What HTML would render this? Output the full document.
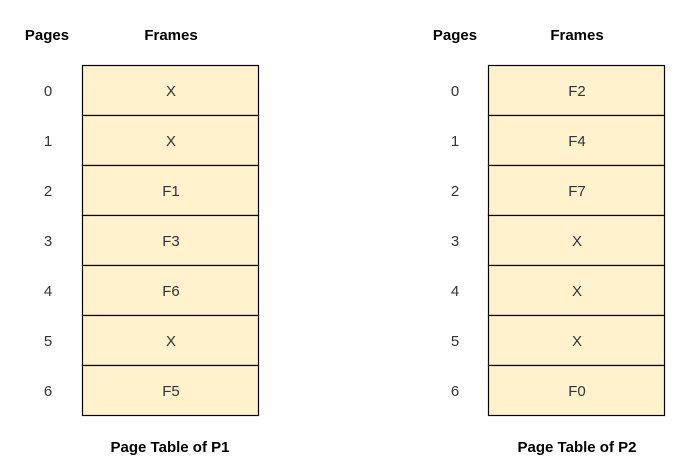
<!DOCTYPE html>
<html><head><meta charset="utf-8"><style>
html,body{margin:0;padding:0;background:#fff;}
svg{display:block;}
text{font-family:"Liberation Sans",Arial,sans-serif;}
.h{font-size:15px;font-weight:bold;fill:#000;}
.n{font-size:15px;fill:#333;}
</style></head><body>
<svg width="693" height="475" viewBox="0 0 693 475" xmlns="http://www.w3.org/2000/svg">
<rect width="693" height="475" fill="#fff"/>
<g text-anchor="middle">
<text class="h" x="47" y="40">Pages</text>
<text class="h" x="171" y="40">Frames</text>
<text class="h" x="455" y="40">Pages</text>
<text class="h" x="577" y="40">Frames</text>
<text class="h" x="170" y="452">Page Table of P1</text>
<text class="h" x="577" y="452">Page Table of P2</text>
</g>
<g fill="#fff2cc" stroke="#000" stroke-width="1.2">
<rect x="82.5" y="65.5" width="176" height="50"/>
<rect x="82.5" y="115.5" width="176" height="50"/>
<rect x="82.5" y="165.5" width="176" height="50"/>
<rect x="82.5" y="215.5" width="176" height="50"/>
<rect x="82.5" y="265.5" width="176" height="50"/>
<rect x="82.5" y="315.5" width="176" height="50"/>
<rect x="82.5" y="365.5" width="176" height="50"/>
<rect x="488.5" y="65.5" width="176" height="50"/>
<rect x="488.5" y="115.5" width="176" height="50"/>
<rect x="488.5" y="165.5" width="176" height="50"/>
<rect x="488.5" y="215.5" width="176" height="50"/>
<rect x="488.5" y="265.5" width="176" height="50"/>
<rect x="488.5" y="315.5" width="176" height="50"/>
<rect x="488.5" y="365.5" width="176" height="50"/>
</g>
<g class="n" text-anchor="middle">
<text class="n" x="48" y="96">0</text><text class="n" x="171" y="96">X</text>
<text class="n" x="48" y="146">1</text><text class="n" x="171" y="146">X</text>
<text class="n" x="48" y="196">2</text><text class="n" x="171" y="196">F1</text>
<text class="n" x="48" y="246">3</text><text class="n" x="171" y="246">F3</text>
<text class="n" x="48" y="296">4</text><text class="n" x="171" y="296">F6</text>
<text class="n" x="48" y="346">5</text><text class="n" x="171" y="346">X</text>
<text class="n" x="48" y="396">6</text><text class="n" x="171" y="396">F5</text>
<text class="n" x="455" y="96">0</text><text class="n" x="577" y="96">F2</text>
<text class="n" x="455" y="146">1</text><text class="n" x="577" y="146">F4</text>
<text class="n" x="455" y="196">2</text><text class="n" x="577" y="196">F7</text>
<text class="n" x="455" y="246">3</text><text class="n" x="577" y="246">X</text>
<text class="n" x="455" y="296">4</text><text class="n" x="577" y="296">X</text>
<text class="n" x="455" y="346">5</text><text class="n" x="577" y="346">X</text>
<text class="n" x="455" y="396">6</text><text class="n" x="577" y="396">F0</text>
</g>
</svg>
</body></html>
